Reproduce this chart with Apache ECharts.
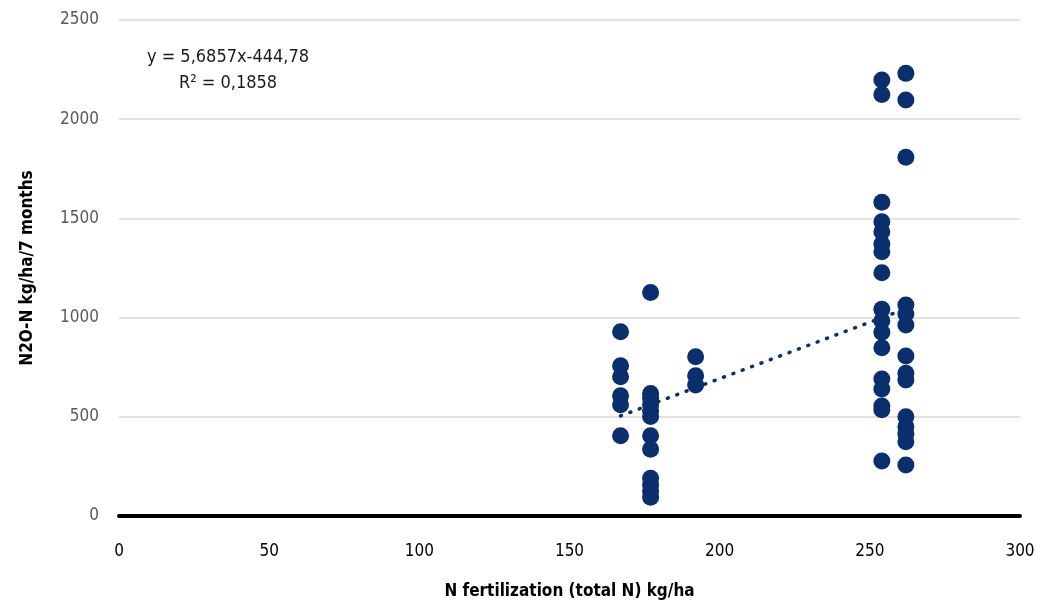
<!DOCTYPE html>
<html>
<head>
<meta charset="utf-8">
<script src="https://cdn.jsdelivr.net/npm/echarts@6/dist/echarts.min.js"></script>
<style>
  html, body { margin: 0; padding: 0; background: #fff; }
  #chart { width: 1037px; height: 607px; }
</style>
</head>
<body>
<div id="chart"></div>
<script>
// N fertilization levels (kg/ha) and the measured N2O-N values at each level
const fertLevels = [167, 177, 192, 254, 262]
const emissions167 = [929, 757, 702, 606, 561, 405]
const emissions177 = [1127, 618, 593, 560, 530, 501, 405, 336, 190, 156, 125, 95]
const emissions192 = [803, 707, 660]
const emissions254 = [2198, 2125, 1581, 1483, 1433, 1371, 1332, 1226, 1042, 984, 926, 848, 690, 640, 554, 535, 277]
const emissions262 = [2231, 2097, 1808, 1063, 1018, 963, 806, 719, 685, 500, 450, 413, 374, 257]

// linear trend as printed on the chart
const slope = 5.6857
const intercept = -444.78
const eqLabel = 'y = 5,6857x-444,78'
const r2Label = 'R² = 0,1858'

const xTicks = { min: 0, max: 300, interval: 50 }
const yTicks = { min: 0, max: 2500, interval: 500 }

const groups = [emissions167, emissions177, emissions192, emissions254, emissions262]
const points = []
groups.forEach((vals, i) => {
  vals.forEach(v => points.push([fertLevels[i], v]))
})

const xMin = Math.min(...fertLevels)
const xMax = Math.max(...fertLevels)
const trend = [
  [xMin, slope * xMin + intercept],
  [xMax, slope * xMax + intercept]
]

const font = "'Liberation Sans Narrow', 'DejaVu Sans Condensed', 'Roboto', sans-serif"
const navy = '#0b2f6c'

const chart = echarts.init(document.getElementById('chart'))
chart.setOption({
  animation: false,
  grid: { left: 119, right: 17, top: 20, bottom: 91, outerBoundsMode: 'none', containLabel: false },
  xAxis: {
    type: 'value',
    min: xTicks.min,
    max: xTicks.max,
    interval: xTicks.interval,
    name: 'N fertilization (total N) kg/ha',
    nameLocation: 'middle',
    nameGap: 67,
    nameTextStyle: { fontFamily: font, fontSize: 17, fontWeight: 'bold', color: '#000' },
    axisLine: { show: true, onZero: true, lineStyle: { color: '#000', width: 4 } },
    axisTick: { show: false },
    splitLine: { show: false },
    axisLabel: { fontFamily: font, fontSize: 17, color: '#000', margin: 27, formatter: v => String(v) }
  },
  yAxis: {
    type: 'value',
    min: yTicks.min,
    max: yTicks.max,
    interval: yTicks.interval,
    name: 'N2O-N kg/ha/7 months',
    nameLocation: 'middle',
    nameGap: 83,
    nameTextStyle: { fontFamily: font, fontSize: 17, fontWeight: 'bold', color: '#000' },
    axisLine: { show: false },
    axisTick: { show: false },
    splitLine: { lineStyle: { color: '#d9d9d9', width: 1.5 } },
    axisLabel: { fontFamily: font, fontSize: 17, color: '#595959', margin: 20, formatter: v => String(v) }
  },
  graphic: [
    {
      type: 'text', x: 228, y: 57,
      style: { text: eqLabel, fontFamily: font, fontSize: 18, fill: '#1a1a1a', align: 'center', verticalAlign: 'middle' }
    },
    {
      type: 'text', x: 228, y: 83,
      style: { text: r2Label, fontFamily: font, fontSize: 18, fill: '#1a1a1a', align: 'center', verticalAlign: 'middle' }
    }
  ],
  series: [
    {
      type: 'line',
      data: trend,
      symbol: 'none',
      lineStyle: { color: navy, width: 3.5, type: [1, 9], cap: 'round' },
      z: 3
    },
    {
      type: 'scatter',
      data: points,
      symbol: 'circle',
      symbolSize: 17,
      itemStyle: { color: navy, opacity: 1 },
      z: 2
    }
  ]
})
</script>
</body>
</html>
